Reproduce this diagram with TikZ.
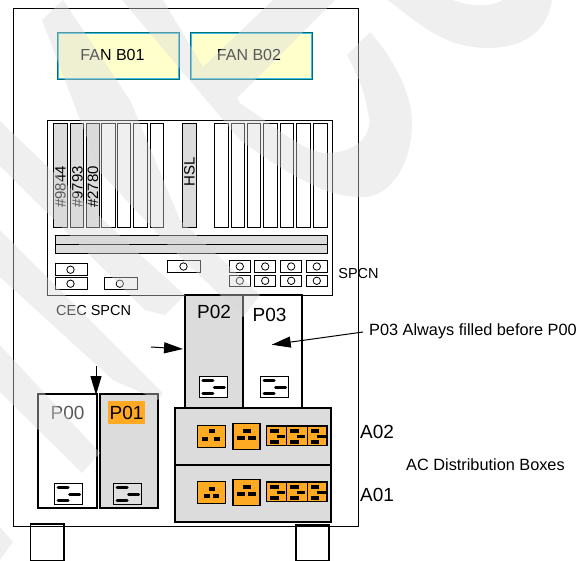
\documentclass[tikz,border=0pt]{standalone}
\usepackage{fontspec}
\setmainfont{Liberation Sans}
\usepackage{tikz}
\usetikzlibrary{arrows.meta}

\definecolor{outletorange}{HTML}{FFAA22}
\definecolor{fanyellow}{HTML}{FFFFCC}
\definecolor{fanteal}{HTML}{006E6E}
\definecolor{boxgray}{HTML}{DCDCDC}
\definecolor{markgray}{gray}{0.85}

\tikzset{
    lbl/.style={inner sep=0pt,font=\fontsize{14.5}{16}\selectfont},
    notelbl/.style={inner sep=0pt,font=\fontsize{16.3}{18}\selectfont},
    biglbl/.style={inner sep=0pt,font=\fontsize{19}{21}\selectfont},
    fanlbl/.style={inner sep=0pt,font=\fontsize{16}{18}\selectfont},
    slotlbl/.style={inner sep=0pt,rotate=90,font=\fontsize{15}{16}\selectfont},
    pointer/.style={-{Triangle[length=19pt,width=11pt]},line width=1pt},
    thickbox/.style={draw,line width=1.8pt},
    watermark/.style={fill=markgray,fill opacity=0.41,draw=none},
}

% supply plug: left, top, fill
\newcommand{\supplyplug}[3]{
    \draw[line width=1.5pt,fill=#3] (#1,#2) rectangle ++(28,21);
    \draw[line width=3pt,line cap=round] (#1+3.5,#2+4) -- ++(10,0);
    \draw[line width=3pt,line cap=round] (#1+15,#2+11) -- ++(10,0);
    \draw[line width=3pt,line cap=round] (#1+3.5,#2+17) -- ++(10,0);
}
% single part of the wide outlet: left, top, width
\newcommand{\stripoutlet}[3]{
    \draw[line width=1.5pt,fill=outletorange] (#1,#2) rectangle ++(#3,19.7);
    \fill (#1+3.5,#2+3) rectangle ++(8.5,3.6);
    \fill (#1+10,#2+8.5) rectangle ++(8.5,3.6);
    \fill (#1+3.5,#2+14) rectangle ++(8.5,3.6);
}

\begin{document}
\begin{tikzpicture}[x=1pt,y=-1pt]
    \useasboundingbox (0,0) rectangle (585,560);
    %
    % cabinet and feet
    \draw[line width=0.9pt] (13,8) rectangle (358.5,526.5);
    \draw[line width=1.3pt] (30.7,524) rectangle (64,561);
    \draw[line width=1.3pt] (296,525) rectangle (329,561);
    %
    % fans
    \foreach \fx in {57,190} {
        \draw[fanteal,line width=1pt,fill=fanyellow] (\fx,32) rectangle ++(122,47);
        \draw[cyan!80!white,line width=0.8pt] (\fx+1,33) rectangle ++(120,45);
    }
    \node[fanlbl] (fanone) at (112.5,55) {FAN B01};
    \node[fanlbl] (fantwo) at (249,55) {FAN B02};
    %
    % card cage
    \draw[line width=0.9pt] (47,120.5) rectangle (332,295);
    \foreach \sl/\sr in {53.3/67.3,70.3/83.7,86/99.7,182/196} {
        \draw[line width=0.9pt,fill=boxgray] (\sl,123.5) rectangle (\sr,227.5);
    }
    \foreach \sl/\sr in {101.3/115.7,117.3/130.3,133.3/147.3,150.3/163.3,214.7/228.3,231.3/244.3,247.3/260.3,263.3/277.7,280.3/293.7,296.3/310,313.3/327.7} {
        \draw[line width=0.9pt] (\sl,123.5) rectangle (\sr,227.5);
    }
    \node[slotlbl,anchor=west] (cardone) at (60.5,208) {\#9844};
    \node[slotlbl,anchor=west] (cardtwo) at (77.5,208) {\#9793};
    \node[slotlbl,anchor=west] (cardthree) at (93,208) {\#2780};
    \node[slotlbl,anchor=west] (cardhsl) at (189.5,187) {HSL};
    %
    \draw[line width=0.9pt,fill=boxgray] (55,235) rectangle (327,244);
    \draw[line width=0.9pt,fill=boxgray] (55,244) rectangle (327,253);
    %
    % spcn ports
    \foreach \pl/\pt in {55/263.7,55/277.7,104.3/277.7} {
        \draw[line width=0.8pt] (\pl,\pt) rectangle ++(32.7,11.8);
        \draw[line width=0.8pt] (\pl+15.5,\pt+6) circle (3.7);
    }
    \draw[line width=0.8pt] (167.7,260.7) rectangle ++(33,11.6);
    \draw[line width=0.8pt] (183.5,266.5) circle (3.7);
    \foreach \pl in {229.3,254.7,280.7,306.3} {
        \foreach \pt in {260.7,275} {
            \draw[line width=0.8pt] (\pl,\pt) rectangle ++(21,11.5);
            \draw[line width=0.8pt] (\pl+10.5,\pt+5.8) circle (3.7);
        }
    }
    \node[lbl] (spcnright) at (358.5,274) {SPCN};
    \node[lbl,anchor=west] (spcncec) at (56,310) {CEC SPCN};
    %
    % power supplies
    \draw[thickbox] (38.3,394.3) rectangle (97.3,507.7);
    \draw[thickbox,fill=boxgray] (100,394.3) rectangle (158,507.7);
    \draw[thickbox,fill=boxgray] (185.3,295) rectangle (243,408);
    \draw[thickbox] (243,295) rectangle (302.3,408);
    \fill[outletorange] (108,401) rectangle (145,423.7);
    \node[biglbl,text=black!65] (psuzero) at (67.5,413) {P00};
    \node[biglbl] (psuone) at (126.5,413) {P01};
    \node[biglbl] (psutwo) at (214,312) {P02};
    \node[biglbl] (psuthree) at (269.5,315) {P03};
    \supplyplug{54.7}{483.3}{white}
    \supplyplug{113.7}{483.3}{gray!25}
    \supplyplug{199.3}{376.7}{white}
    \supplyplug{260.7}{376.7}{white}
    %
    % distribution boxes
    \draw[thickbox,fill=boxgray] (174.7,408.3) rectangle (331,465);
    \draw[thickbox,fill=boxgray] (174.7,465) rectangle (331,522);
    \foreach \oy in {0,56} {
        \draw[line width=1.5pt,fill=outletorange] (197.3,425.7+\oy) rectangle ++(28,21.6);
        \draw[line width=1.5pt,fill=outletorange] (233,423.7+\oy) rectangle ++(27,25.6);
        \fill (243,429+\oy) rectangle ++(8,4);
        \fill (237,436+\oy) rectangle ++(8,4);
        \fill (248,436+\oy) rectangle ++(8,4);
        \stripoutlet{266.7}{426+\oy}{20}
        \stripoutlet{286.7}{426+\oy}{20.6}
        \stripoutlet{307.3}{426+\oy}{19.7}
    }
    \fill (208.7,429.3) rectangle ++(6,4);
    \fill (202.3,437.3) rectangle ++(6,4);
    \fill (214.3,437.3) rectangle ++(6,4);
    \fill (208.7,486.7) rectangle ++(6,4);
    \fill (204,494) rectangle ++(6,4);
    \fill (212.7,494) rectangle ++(6,4);
    %
    \node[biglbl,anchor=west] (boxtwo) at (360,432) {A02};
    \node[biglbl,anchor=west] (boxone) at (360,495) {A01};
    \node[notelbl,anchor=west] (boxnote) at (406,465) {AC Distribution Boxes};
    \node[notelbl,anchor=west] (fillnote) at (369,331) {P03 Always filled before P00};
    %
    % arrows
    \coordinate (downfrom) at (96,366);
    \coordinate (downto) at (96,395);
    \coordinate (sidefrom) at (151,347);
    \coordinate (sideto) at (183,349);
    \coordinate (notefrom) at (363,332);
    \coordinate (noteto) at (271.7,344.7);
    \draw[pointer] (downfrom) -- (downto);
    \draw[pointer] (sidefrom) -- (sideto);
    \draw[pointer] (notefrom) -- (noteto);
    %
    % watermark lies over everything
    \fill[watermark] (42,20) -- (63,0) -- (130,100) -- (180,220) -- (260,295) -- (243,317) -- (170,247) -- (100,172) -- cycle;
    \fill[watermark] (0,121) -- (137,252) -- (185,295) -- (165,315) -- (145,310) -- (0,166) -- cycle;
    \fill[watermark] (122,0) -- (163,0) -- (203,67) -- (273,0) -- (335,0) -- (237,98) -- (240,103)
        .. controls (280,130) and (305,153) .. (327,153)
        .. controls (355,153) and (375,135) .. (368,113)
        .. controls (365,90) and (355,70) .. (347,55)
        -- (370,32)
        .. controls (395,60) and (412,95) .. (412,123)
        .. controls (412,165) and (390,197) .. (363,197)
        .. controls (345,197) and (330,193) .. (317,187)
        .. controls (290,175) and (265,158) .. (240,140) -- cycle;
    \fill[watermark] (388,0) .. controls (420,25) and (445,48) .. (488,48)
        .. controls (525,48) and (548,30) .. (552,0) -- (503,0) .. controls (490,7) and (470,7) .. (453,0) -- cycle;
    \fill[watermark] (0,230) -- (163,393) -- (158,400) -- (113,380) -- (0,277) -- cycle;
    \fill[watermark] (0,345) -- (100,453) -- (82,473) -- (0,392) -- cycle;
    \fill[watermark] (0,527) -- (13,542) -- (0,560) -- cycle;
\end{tikzpicture}
\end{document}
